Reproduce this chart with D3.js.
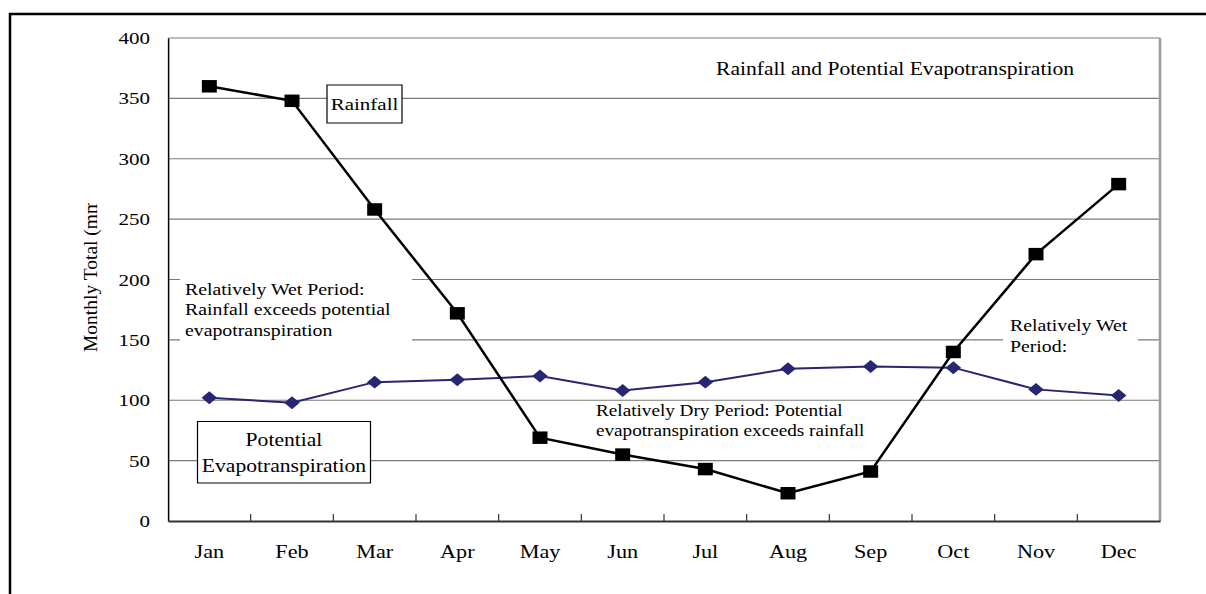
<!DOCTYPE html>
<html>
<head>
<meta charset="utf-8">
<script src="https://cdn.jsdelivr.net/npm/d3@7"></script>
<style>
body { margin: 0; background: #fff; }
text { font-family: "Liberation Serif", "Times New Roman", serif; fill: #000; }
line, path.line, .domain, rect.box { vector-effect: non-scaling-stroke; }
</style>
</head>
<body>
<script>
//chart data
var months = ["Jan", "Feb", "Mar", "Apr", "May", "Jun", "Jul", "Aug", "Sep", "Oct", "Nov", "Dec"];
var rainfall = [360, 348, 258, 172, 69, 55, 43, 23, 41, 140, 221, 279];
var evapo = [102, 98, 115, 117, 120, 108, 115, 126, 128, 127, 109, 104];
var yTicks = [0, 50, 100, 150, 200, 250, 300, 350, 400];

window.onload = function(){

    var w = 1206, h = 594;
    var sx = 1.2; //the picture is stretched sideways, so everything is drawn in a scaled group

    var svg = d3.select("body")
        .append("svg")
        .attr("width", w)
        .attr("height", h);

    //outer frame
    svg.append("rect")
        .attr("x", 10)
        .attr("y", 14)
        .attr("width", 1300)
        .attr("height", 700)
        .style("fill", "none")
        .style("stroke", "#000")
        .style("stroke-width", 2.5);

    var g = svg.append("g")
        .attr("transform", "scale(" + sx + ",1)");

    var left = 168 / sx, right = 1160 / sx, top = 38, bottom = 521;

    var x = d3.scaleBand()
        .domain(months)
        .range([left, right]);

    var y = d3.scaleLinear()
        .domain([0, 400])
        .range([bottom, top]);

    function cx(i){ return x(months[i]) + x.bandwidth() / 2; }

    //gridlines
    g.selectAll(".grid")
        .data(yTicks.slice(1))
        .enter()
        .append("line")
        .attr("class", "grid")
        .attr("x1", left)
        .attr("x2", right)
        .attr("y1", function(d){ return y(d); })
        .attr("y2", function(d){ return y(d); })
        .style("stroke", "#7a7a7a")
        .style("stroke-width", 1.2);

    //right border of the plot
    g.append("line")
        .attr("x1", right).attr("x2", right)
        .attr("y1", top).attr("y2", bottom)
        .style("stroke", "#9a9a9a")
        .style("stroke-width", 2.5);

    //y axis
    var yAxis = g.append("g")
        .attr("transform", "translate(" + left + ",0)")
        .call(d3.axisLeft(y).tickValues(yTicks).tickSize(0).tickSizeOuter(0).tickPadding(18 / sx));
    yAxis.select(".domain").style("stroke", "#000").style("stroke-width", 1.5);
    yAxis.selectAll("text").style("font-size", "17.5px").style("font-family", "Liberation Serif");

    //x axis
    var xAxis = g.append("g")
        .attr("transform", "translate(0," + bottom + ")")
        .call(d3.axisBottom(x).tickSize(0).tickSizeOuter(0).tickPadding(24));
    xAxis.select(".domain").style("stroke", "#333").style("stroke-width", 2);
    xAxis.selectAll("text").style("font-size", "18.5px").style("font-family", "Liberation Serif");

    //tick marks between months
    g.selectAll(".xtick")
        .data(months.slice(1))
        .enter()
        .append("line")
        .attr("class", "xtick")
        .attr("x1", function(d){ return x(d); })
        .attr("x2", function(d){ return x(d); })
        .attr("y1", bottom)
        .attr("y2", bottom - 7)
        .style("stroke", "#333")
        .style("stroke-width", 1.2);

    //y axis title, cut off at the top as in the original
    svg.append("clipPath")
        .attr("id", "ylabClip")
        .append("rect")
        .attr("x", 0).attr("y", 203)
        .attr("width", 160).attr("height", 300);

    svg.append("g")
        .attr("clip-path", "url(#ylabClip)")
        .append("text")
        .attr("transform", "translate(97,352) rotate(-90)")
        .style("font-size", "19.5px")
        .text("Monthly Total (mm)");

    //title
    g.append("text")
        .attr("x", 716 / sx)
        .attr("y", 75)
        .style("font-size", "18px")
        .text("Rainfall and Potential Evapotranspiration");

    //white backgrounds behind the wet period notes
    g.append("rect")
        .attr("x", 180 / sx).attr("y", 266)
        .attr("width", (412 - 180) / sx).attr("height", 80)
        .style("fill", "#fff");

    g.append("rect")
        .attr("x", 1003 / sx).attr("y", 312)
        .attr("width", (1138 - 1003) / sx).attr("height", 50)
        .style("fill", "#fff");

    //notes
    var notes = [
        { x: 185, y: 295, lines: ["Relatively Wet Period:", "Rainfall exceeds potential", "evapotranspiration"], size: 16.5, gap: 20.5 },
        { x: 596, y: 416, lines: ["Relatively Dry Period: Potential", "evapotranspiration exceeds rainfall"], size: 16, gap: 20.5 },
        { x: 1010, y: 331, lines: ["Relatively Wet", "Period:"], size: 16.5, gap: 21 }
    ];

    notes.forEach(function(n){
        var t = g.append("text")
            .attr("y", n.y)
            .style("font-size", n.size + "px");
        t.selectAll("tspan")
            .data(n.lines)
            .enter()
            .append("tspan")
            .attr("x", n.x / sx)
            .attr("dy", function(d, i){ return i ? n.gap : 0; })
            .text(function(d){ return d; });
    });

    //series lines
    var line = d3.line()
        .x(function(d, i){ return cx(i); })
        .y(function(d){ return y(d); });

    g.append("path")
        .datum(evapo)
        .attr("class", "line")
        .attr("d", line)
        .style("fill", "none")
        .style("stroke", "#262672")
        .style("stroke-width", 2);

    g.append("path")
        .datum(rainfall)
        .attr("class", "line")
        .attr("d", line)
        .style("fill", "none")
        .style("stroke", "#000")
        .style("stroke-width", 2.5);

    //markers
    g.selectAll(".diamond")
        .data(evapo)
        .enter()
        .append("path")
        .attr("class", "diamond")
        .attr("d", d3.symbol(d3.symbolSquare, 84))
        .attr("transform", function(d, i){
            return "translate(" + cx(i) + "," + y(d) + ") rotate(45)";
        })
        .style("fill", "#262672");

    g.selectAll(".square")
        .data(rainfall)
        .enter()
        .append("path")
        .attr("class", "square")
        .attr("d", d3.symbol(d3.symbolSquare, 156))
        .attr("transform", function(d, i){
            return "translate(" + cx(i) + "," + y(d) + ")";
        })
        .style("fill", "#000");

    //boxed series labels
    var boxes = [
        { x: 327, y: 85, w: 75, h: 38, lines: ["Rainfall"], base: 110.5, size: 17.5, gap: 0 },
        { x: 197.5, y: 421.5, w: 173, h: 61.5, lines: ["Potential", "Evapotranspiration"], base: 446.5, size: 18, gap: 25.5 }
    ];

    boxes.forEach(function(b){
        g.append("rect")
            .attr("class", "box")
            .attr("x", b.x / sx).attr("y", b.y)
            .attr("width", b.w / sx).attr("height", b.h)
            .style("fill", "#fff")
            .style("stroke", "#000")
            .style("stroke-width", 1.2);
        var t = g.append("text")
            .attr("y", b.base)
            .attr("text-anchor", "middle")
            .style("font-size", b.size + "px");
        t.selectAll("tspan")
            .data(b.lines)
            .enter()
            .append("tspan")
            .attr("x", (b.x + b.w / 2) / sx)
            .attr("dy", function(d, i){ return i ? b.gap : 0; })
            .text(function(d){ return d; });
    });
};
</script>
</body>
</html>
